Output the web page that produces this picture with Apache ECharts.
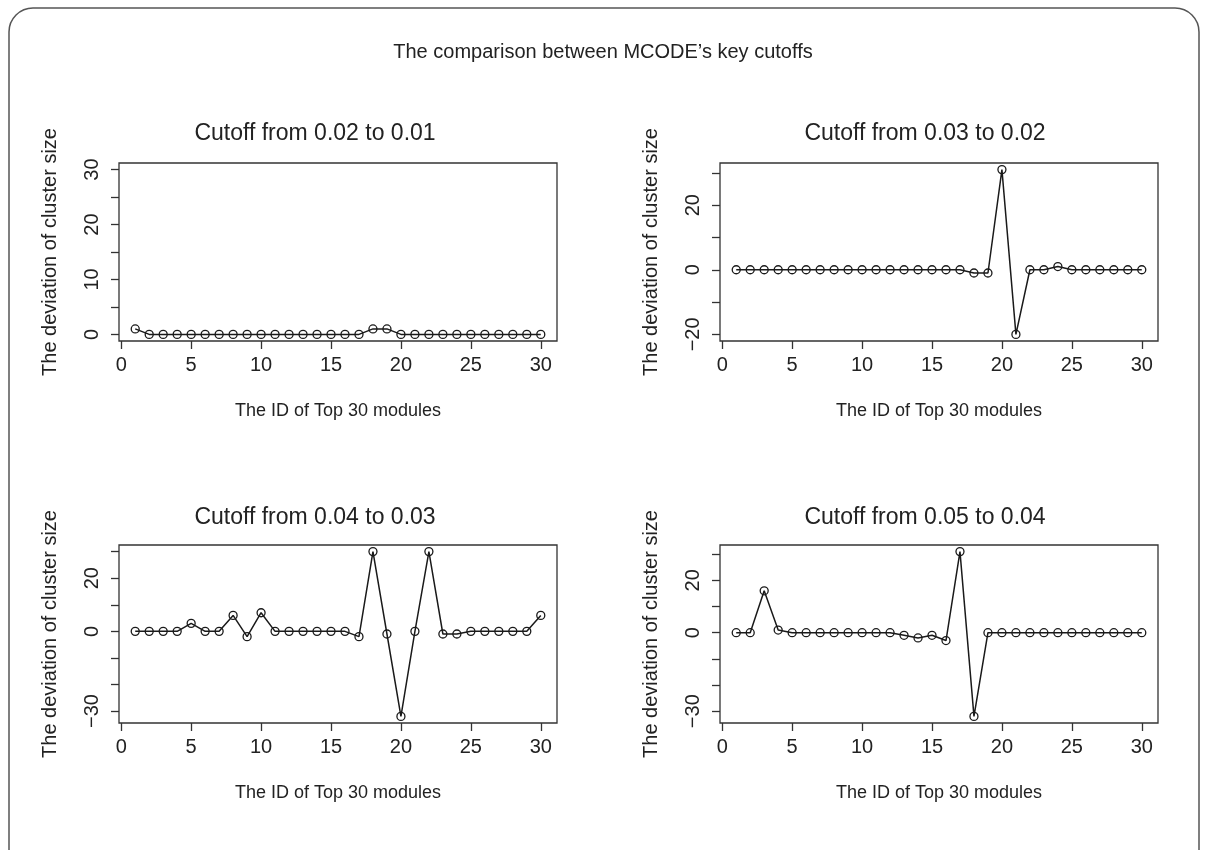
<!DOCTYPE html>
<html>
<head>
<meta charset="utf-8">
<script src="https://cdn.jsdelivr.net/npm/echarts@6/dist/echarts.min.js"></script>
<style>html,body{margin:0;padding:0;background:#fff;}#chart{width:1206px;height:850px;}</style>
</head>
<body>
<div id="chart"></div>
<script>
// ---- data ----
const moduleIds = Array.from({length: 30}, (_, i) => i + 1);
const panelTitles = ['Cutoff from 0.02 to 0.01', 'Cutoff from 0.03 to 0.02', 'Cutoff from 0.04 to 0.03', 'Cutoff from 0.05 to 0.04'];
const cut02to01 = [1,0,0,0,0,0,0,0,0,0,0,0,0,0,0,0,0,1,1,0,0,0,0,0,0,0,0,0,0,0];
const cut03to02 = [0,0,0,0,0,0,0,0,0,0,0,0,0,0,0,0,0,-1,-1,31,-20,0,0,1,0,0,0,0,0,0];
const cut04to03 = [0,0,0,0,3,0,0,6,-2,7,0,0,0,0,0,0,-2,30,-1,-32,0,30,-1,-1,0,0,0,0,0,6];
const cut05to04 = [0,0,16,1,0,0,0,0,0,0,0,0,-1,-2,-1,-3,31,-32,0,0,0,0,0,0,0,0,0,0,0,0];
const yLimits = [[0,30],[-20,31],[-32,30],[-32,31]];
const xTicks = [0,5,10,15,20,25,30];
const xLabels = [0,5,10,15,20,25,30];
const yTicks = [[0,5,10,15,20,25,30],[-20,-10,0,10,20,30],[-30,-20,-10,0,10,20,30],[-30,-20,-10,0,10,20,30]];
const yLabels = [[0,10,20,30],[-20,0,20],[-30,0,20],[-30,0,20]];
const mainTitle = 'The comparison between MCODE\u2019s key cutoffs';
const xName = 'The ID of Top 30 modules';
const yName = 'The deviation of cluster size';

const seriesData = [cut02to01, cut03to02, cut04to03, cut05to04];

// ---- layout ----
const font = '"Liberation Sans", Arial, Helvetica, sans-serif';
const ink = '#222';
const grids = [
  {left: 119, top: 163, width: 438, height: 178},
  {left: 720, top: 163, width: 438, height: 178},
  {left: 119, top: 545, width: 438, height: 178},
  {left: 720, top: 545, width: 438, height: 178}
];
const titlePos = [[310, 117], [920, 117], [310, 501], [920, 501]];

function ext(lo, hi) { const d = (hi - lo) * 0.04; return [lo - d, hi + d]; }
const xExt = ext(moduleIds[0], moduleIds[moduleIds.length - 1]);
const minusFmt = v => String(v).replace('-', '\u2212');

const option = {
  animation: false,
  backgroundColor: '#fff',
  textStyle: {fontFamily: font, color: ink},
  title: [{text: mainTitle, left: 'center', top: 37, textStyle: {fontFamily: font, fontSize: 20, fontWeight: 'normal', color: ink}}]
    .concat(panelTitles.map((t, i) => ({
      text: t, left: titlePos[i][0], top: titlePos[i][1], textAlign: 'center',
      textStyle: {fontFamily: font, fontSize: 23, fontWeight: 'normal', color: ink}
    }))),
  grid: grids.map(g => Object.assign({show: true, borderColor: '#333', borderWidth: 1.3, backgroundColor: 'transparent'}, g)),
  xAxis: grids.map((g, i) => ({
    type: 'value', gridIndex: i, min: xExt[0], max: xExt[1], position: 'bottom',
    axisLine: {show: false, onZero: false},
    splitLine: {show: false},
    axisTick: {show: true, length: 8, inside: false, customValues: xTicks, lineStyle: {color: '#333', width: 1.3}},
    axisLabel: {show: true, customValues: xLabels, margin: 14, fontSize: 20, color: ink, fontFamily: font},
    name: xName, nameLocation: 'middle', nameGap: 61,
    nameTextStyle: {fontSize: 18, color: ink, fontFamily: font}
  })),
  yAxis: grids.map((g, i) => {
    const e = ext(yLimits[i][0], yLimits[i][1]);
    return {
      type: 'value', gridIndex: i, min: e[0], max: e[1], position: 'left',
      axisLine: {show: false, onZero: false},
      splitLine: {show: false},
      axisTick: {show: true, length: 8, inside: false, customValues: yTicks[i], lineStyle: {color: '#333', width: 1.3}},
      axisLabel: {show: true, customValues: yLabels[i], rotate: 90, margin: 17, fontSize: 20, color: ink, fontFamily: font, formatter: minusFmt},
      name: yName, nameLocation: 'middle', nameGap: 59, nameRotate: 90,
      nameTextStyle: {fontSize: 20, color: ink, fontFamily: font}
    };
  }),
  series: seriesData.map((d, i) => ({
    type: 'line', xAxisIndex: i, yAxisIndex: i,
    data: d.map((v, k) => [moduleIds[k], v]),
    symbol: 'circle', symbolSize: 8,
    lineStyle: {color: '#1a1a1a', width: 1.5},
    itemStyle: {color: 'rgba(0,0,0,0)', borderColor: '#1a1a1a', borderWidth: 1.3},
    emphasis: {disabled: true}
  })),
  graphic: [{
    type: 'rect', silent: true,
    shape: {x: 9, y: 8, width: 1190, height: 900, r: 24},
    style: {fill: 'none', stroke: '#555', lineWidth: 1.5}
  }]
};

const chart = echarts.init(document.getElementById('chart'), null, {renderer: 'canvas'});
chart.setOption(option);
</script>
</body>
</html>
